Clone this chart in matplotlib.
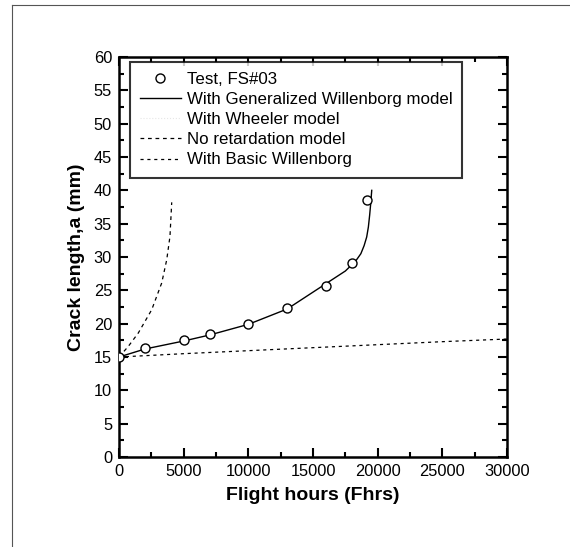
import matplotlib.pyplot as plt
from matplotlib.lines import Line2D
import numpy as np

plt.rcParams['font.family'] = ['Liberation Sans', 'DejaVu Sans']

# test data, FS#03
test_x = [0, 2000, 5000, 7000, 10000, 13000, 16000, 18000, 19200]
test_y = [15, 16.4, 17.6, 18.5, 20.0, 22.4, 25.6, 29.1, 38.5]

# generalized Willenborg model
gw_x = [0, 2000, 5000, 7000, 10000, 13000, 16000, 17500, 18300, 18700,
        18950, 19150, 19280, 19380, 19460, 19540]
gw_y = [15, 16.2, 17.4, 18.3, 19.9, 22.2, 26.0, 27.9, 29.4, 30.5,
        31.7, 33.0, 34.5, 36.3, 38.0, 40.0]

# no retardation model
nr_x = [0, 720, 1490, 2530, 3300, 3690, 3940, 4075]
nr_y = [15, 16.6, 18.6, 22.1, 26.1, 29.6, 33.1, 38.2]

# basic Willenborg
bw_x = [0, 5000, 10000, 15000, 20000, 25000, 30000]
bw_y = [15, 15.5, 15.95, 16.4, 16.85, 17.3, 17.7]

fig = plt.figure(figsize=(5.7, 5.47), dpi=100)
ax = fig.add_axes([0.2088, 0.1645, 0.6807, 0.7313])

ax.plot(test_x, test_y, 'o', mfc='white', mec='black', ms=6.5, mew=1.0,
        label='Test, FS#03', zorder=5)
ax.plot(gw_x, gw_y, '-', color='black', lw=1.0,
        label='With Generalized Willenborg model')
wheeler = Line2D([], [], color='#e6e6e6', lw=0.8, ls=':',
                 label='With Wheeler model')
ax.plot(nr_x, nr_y, color='black', lw=0.9, ls=(0, (3, 3)),
        label='No retardation model')
ax.plot(bw_x, bw_y, color='black', lw=0.9, ls=(0, (2.5, 3)),
        label='With Basic Willenborg')

h, l = ax.get_legend_handles_labels()
h.insert(2, wheeler)
l.insert(2, 'With Wheeler model')
leg = ax.legend(h, l, loc='upper left', bbox_to_anchor=(0.028, 0.9875),
                borderaxespad=0, fontsize=12.2, frameon=True, fancybox=False,
                handlelength=2.4, handletextpad=0.35, labelspacing=0.3,
                borderpad=0.6)
leg.get_frame().set_edgecolor('black')
leg.get_frame().set_linewidth(1.5)

ax.set_xlim(0, 30000)
ax.set_ylim(0, 60)
ax.set_xticks(np.arange(0, 30001, 5000))
ax.set_yticks(np.arange(0, 61, 5))
ax.set_xticks(np.arange(2500, 30000, 5000), minor=True)
ax.set_yticks(np.arange(2.5, 60, 5), minor=True)
ax.tick_params(which='both', direction='in', top=True, right=True,
               labelsize=11.8, width=1.5)
ax.tick_params(which='major', length=6.5, pad=5)
ax.tick_params(which='minor', length=3.5)
for s in ax.spines.values():
    s.set_linewidth(1.8)

ax.set_xlabel('Flight hours (Fhrs)', fontsize=14, fontweight='bold', labelpad=6)
ax.set_ylabel('Crack length,a (mm)', fontsize=14, fontweight='bold', labelpad=6)

# scanned page border (top and left)
fig.add_artist(Line2D([12/570, 12/570], [0, 1 - 5/547], transform=fig.transFigure,
                      color='#555555', lw=0.8))
fig.add_artist(Line2D([12/570, 1], [1 - 5/547, 1 - 5/547], transform=fig.transFigure,
                      color='#555555', lw=0.8))

fig.savefig('out.png', dpi=100)
